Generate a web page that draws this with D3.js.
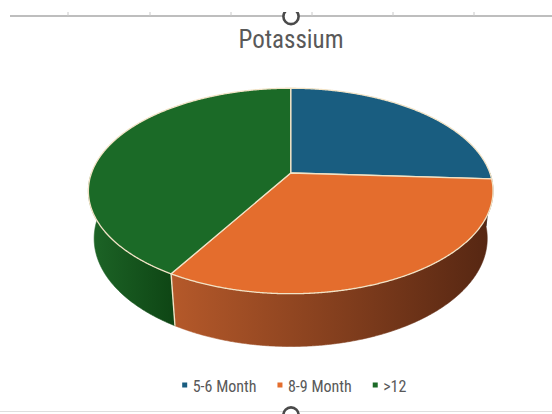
<!DOCTYPE html>
<html>
<head>
<meta charset="utf-8">
<script src="https://cdn.jsdelivr.net/npm/d3@7"></script>
<style>
  html, body { margin: 0; padding: 0; background: #ffffff; }
  svg { display: block; }
  text { font-family: "Liberation Sans Narrow", "Arial Narrow", "Roboto Condensed", sans-serif; }
</style>
</head>
<body>
<svg id="chart" width="552" height="414"></svg>
<script>
// Potassium by age group
const categories = ["5-6 Month", "8-9 Month", ">12"];
const values = [3.5, 4.4, 5.6];
const topColors = ["#195d80", "#e46d2d", "#1b6a27"];
const sideLight = ["#1d5a7a", "#b5592a", "#1d6527"];
const sideDark = ["#0f3a52", "#552612", "#0e4514"];
const rulerTicks = [68, 150, 231, 312, 393, 474];

const W = 552, H = 414;
const svg = d3.select("#chart");
const defs = svg.append("defs");

// --- window furniture: ruler line with tick marks and sizing handles ---
svg.append("line").attr("x1", 10).attr("x2", W).attr("y1", 16).attr("y2", 16)
  .attr("stroke", "#a8a8a8").attr("stroke-width", 1.5);
svg.selectAll("line.tick").data(rulerTicks).join("line").attr("class", "tick")
  .attr("x1", d => d).attr("x2", d => d).attr("y1", 12).attr("y2", 16)
  .attr("stroke", "#c8c8c8").attr("stroke-width", 1);
svg.append("line").attr("x1", 0).attr("x2", W).attr("y1", 411.5).attr("y2", 411.5)
  .attr("stroke", "#dedede").attr("stroke-width", 1);

defs.append("clipPath").attr("id", "handleClip")
  .append("rect").attr("x", 270).attr("y", 12).attr("width", 40).attr("height", 20);
svg.append("circle").attr("cx", 291).attr("cy", 16.5).attr("r", 7.6)
  .attr("fill", "#fff").attr("stroke", "#4a4a4a").attr("stroke-width", 2.6)
  .attr("clip-path", "url(#handleClip)");
svg.append("circle").attr("cx", 291).attr("cy", 415).attr("r", 7.6)
  .attr("fill", "#fff").attr("stroke", "#4a4a4a").attr("stroke-width", 2.6);

// --- title ---
svg.append("text").attr("x", 291).attr("y", 47.5).attr("text-anchor", "middle")
  .attr("font-size", 25).attr("fill", "#595959").text("Potassium");

// --- 3D pie with perspective projection ---
const cx = 290.7, cy = 173;           // projected centre of the disc
const tilt = 30 * Math.PI / 180;      // camera elevation
const dist = 4.95;                    // camera distance in disc radii
const focal = 986;                    // focal length in px
const thick = 0.281;                  // disc thickness in radii
const sa = Math.sin(tilt), ca = Math.cos(tilt);

// point at radius r, angle theta (clockwise from the far point), height y
function project(theta, y, r = 1) {
  const X = r * Math.sin(theta), Z = r * Math.cos(theta);
  const depth = dist + Z * ca - y * sa;
  const yc = Z * sa + y * ca;
  return [cx + focal * X / depth, cy - focal * yc / depth];
}
function rim(a0, a1, y) {
  const n = Math.max(2, Math.ceil(Math.abs(a1 - a0) / 0.005));
  return d3.range(n + 1).map(i => project(a0 + (a1 - a0) * i / n, y));
}
const line = d3.line();

const pie = d3.pie().sort(null).value(d => d).startAngle(0).endAngle(2 * Math.PI);
const arcs = pie(values);

const edgeColor = "#f2e3c6";
const frontLo = Math.PI / 2, frontHi = 3 * Math.PI / 2;

// side walls (front half only)
arcs.forEach((a, i) => {
  const s = Math.max(a.startAngle, frontLo), e = Math.min(a.endAngle, frontHi);
  if (e <= s) return;
  const topPts = rim(s, e, 0);
  const botPts = rim(e, s, -thick);
  const xs = topPts.concat(botPts).map(p => p[0]);
  const gid = "side" + i;
  const g = defs.append("linearGradient").attr("id", gid)
    .attr("gradientUnits", "userSpaceOnUse")
    .attr("x1", d3.min(xs)).attr("x2", d3.max(xs)).attr("y1", 0).attr("y2", 0);
  g.append("stop").attr("offset", 0).attr("stop-color", sideLight[i]);
  g.append("stop").attr("offset", 1).attr("stop-color", sideDark[i]);
  svg.append("path").attr("d", line(topPts.concat(botPts)) + "Z")
    .attr("fill", `url(#${gid})`).attr("stroke", `url(#${gid})`).attr("stroke-width", 0.6);
});

// vertical seams between slices on the visible wall
arcs.forEach(a => {
  const t = a.endAngle;
  if (t > frontLo + 0.25 && t < frontHi - 0.25) {
    const p0 = project(t, 0), p1 = project(t, -thick);
    svg.append("line").attr("x1", p0[0]).attr("y1", p0[1]).attr("x2", p1[0]).attr("y2", p1[1])
      .attr("stroke", edgeColor).attr("stroke-width", 1.4);
  }
});

// top faces
arcs.forEach((a, i) => {
  const pts = [project(0, 0, 0)].concat(rim(a.startAngle, a.endAngle, 0));
  svg.append("path").attr("d", line(pts) + "Z")
    .attr("fill", topColors[i]).attr("stroke", edgeColor).attr("stroke-width", 1.3)
    .attr("stroke-linejoin", "round");
});

// --- legend ---
const legend = svg.append("g");
let x = 0;
categories.forEach((c, i) => {
  legend.append("rect").attr("x", x).attr("y", 382.5).attr("width", 5).attr("height", 5)
    .attr("fill", topColors[i]);
  const t = legend.append("text").attr("x", x + 10.5).attr("y", 392.3)
    .attr("font-size", 16).attr("fill", "#595959").text(c);
  x += 10.5 + t.node().getComputedTextLength() + 21;
});
const total = x - 21;
legend.attr("transform", `translate(${294.3 - total / 2},0)`);
</script>
</body>
</html>
